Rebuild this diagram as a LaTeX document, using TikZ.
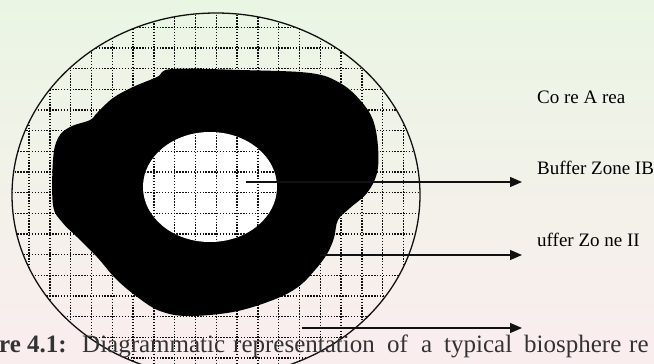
\documentclass[tikz,border=0pt]{standalone}
\usepackage{fontspec}
\setmainfont{Liberation Serif}
\usepackage{xcolor}
\usetikzlibrary{arrows.meta}
\definecolor{washgreen}{HTML}{EAF6E4}
\definecolor{washpink}{HTML}{FAEDEE}
\definecolor{inkblack}{HTML}{111111}

\tikzset{
  gridline/.style={inkblack, line width=1.4pt, dash pattern=on 1.4pt off 1.5pt},
  zonearrow/.style={inkblack, line width=1.3pt, -{Triangle[length=12pt,width=10pt]}},
  zonelabel/.style={anchor=west, inner sep=0pt, font=\fontsize{19}{21}\selectfont},
  captext/.style={anchor=base west, inner sep=0pt, text=black!80, font=\fontsize{25}{28}\selectfont}
}

\begin{document}
\begin{tikzpicture}[x=1pt, y=-1pt]
  \useasboundingbox (0,0) rectangle (654,364);
  % Fondo
  \shade[top color=washgreen, bottom color=washpink] (0,0) rectangle (654,364);

  % Rejilla en la zona exterior
  \begin{scope}
    \clip (216,195) ellipse [x radius=204pt, y radius=182pt];
    \foreach \gx in {0,...,18}{
      \draw[gridline] ({29+20.8*\gx},0) -- ({29+20.8*\gx},364);
    }
    \foreach \gy in {-4,...,12}{
      \draw[gridline] (0,{110+20.67*\gy}) -- (654,{110+20.67*\gy});
    }
  \end{scope}

  % Zona tampon (mancha negra)
  \fill[black] plot[smooth cycle, tension=0.6] coordinates {
    (172,69) (240,70) (310,73) (340,83) (360,100) (373,120) (378,147)
    (377,173) (367,193) (350,208) (338,220) (334,238) (327,254) (315,270)
    (298,287) (273,300) (233,312) (187,316) (160,311) (140,299) (117,280)
    (97,257) (77,237) (62,222) (53,205) (53,160) (58,138) (70,127)
    (90,120) (97,113) (113,98) (133,87) (157,77)};

  % Area nucleo
  \fill[white] (210,187) ellipse [x radius=67pt, y radius=55pt];
  \begin{scope}
    \clip (210,187) ellipse [x radius=67pt, y radius=55pt];
    \foreach \gx in {5,...,12}{
      \draw[gridline] ({29+20.8*\gx},120) -- ({29+20.8*\gx},250);
    }
    \foreach \gy in {0,...,7}{
      \draw[gridline] (130,{110+20.67*\gy}) -- (290,{110+20.67*\gy});
    }
  \end{scope}

  % Contorno exterior
  \draw[inkblack, line width=1.3pt] (216,195) ellipse [x radius=204pt, y radius=182pt];

  % Flechas
  \coordinate (coreFrom) at (246,182);
  \coordinate (coreTip) at (522,182);
  \coordinate (bufFrom) at (320,255);
  \coordinate (bufTip) at (522,255);
  \coordinate (outFrom) at (302,328);
  \coordinate (outTip) at (522,328);
  \draw[zonearrow] (coreFrom) -- (coreTip);
  \draw[zonearrow] (bufFrom) -- (bufTip);
  \draw[zonearrow] (outFrom) -- (outTip);

  % Etiquetas
  \node[zonelabel] (coreLbl) at (537,97) {Co re A rea};
  \node[zonelabel] (bufOneLbl) at (537,168) {Buffer Zone IB};
  \node[zonelabel] (bufTwoLbl) at (537,240) {uffer Zo ne II};

  % Pie de figura
  \node[captext, font=\fontsize{25}{28}\selectfont\bfseries] (capFig) at (-1,352) {re};
  \node[captext, font=\fontsize{25}{28}\selectfont\bfseries] (capNum) at (27,352) {4.1:};
  \node[captext] (capA) at (82,352) {Diagrammatic};
  \node[captext] (capB) at (233,352) {representation};
  \node[captext] (capC) at (387,352) {of};
  \node[captext] (capD) at (421,352) {a};
  \node[captext] (capE) at (444,352) {typical};
  \node[captext] (capF) at (524,352) {biosphere};
  \node[captext] (capG) at (629,352) {re};
\end{tikzpicture}
\end{document}
